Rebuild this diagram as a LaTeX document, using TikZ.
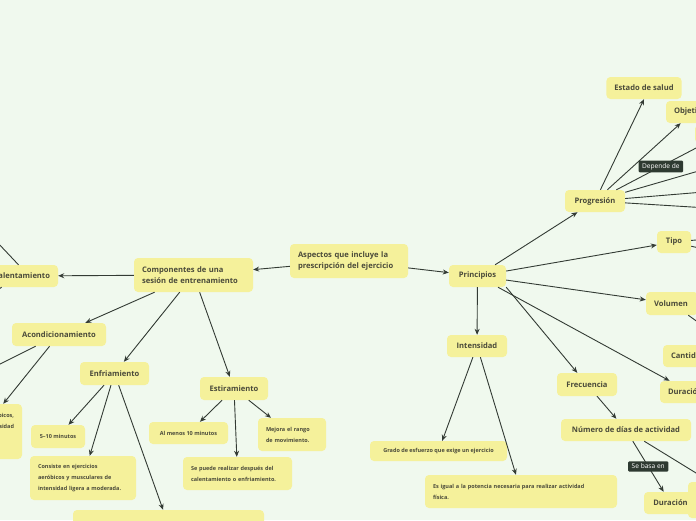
\documentclass[tikz,border=0pt]{standalone}
\usepackage{fontspec}
\setmainfont{Open Sans}
\usetikzlibrary{arrows.meta}
\definecolor{bgcol}{HTML}{F0F9EE}
\definecolor{boxcol}{HTML}{F5F19B}
\definecolor{txtcol}{HTML}{4A4A3A}
\definecolor{linecol}{HTML}{333B34}
\definecolor{lblcol}{HTML}{2E3A31}
\tikzset{
  topic/.style={fill=boxcol, rounded corners=4pt, text=txtcol, inner xsep=8pt, inner ysep=0pt,
    font=\fontsize{7.6}{11}\selectfont\bfseries},
  detail/.style={topic, font=\fontsize{5.5}{11}\selectfont\bfseries},
  arr/.style={-{Stealth[length=6pt,width=5pt]}, draw=linecol, line width=0.9pt},
  lbl/.style={fill=lblcol, text=white, rounded corners=1pt, inner xsep=3.5pt, inner ysep=2.5pt,
    font=\fontsize{6.6}{7}\selectfont},
}
\begin{document}
\begin{tikzpicture}[x=1pt, y=-1pt]
  \useasboundingbox (0,0) rectangle (696,520);
  \fill[bgcol] (0,0) rectangle (696,520);
  \clip (0,0) rectangle (696,520);
  % centre
  \node[topic, text width=102pt, align=left, minimum height=34pt] (asp) at (349,261) {Aspectos que incluye la\\prescripción del ejercicio};
  \node[topic, minimum width=57pt, minimum height=22pt] (prin) at (477.5,276) {Principios};
  \node[topic, text width=103pt, align=left, minimum height=34pt] (comp) at (193.5,275) {Componentes de una\\sesión de entrenamiento};
  % Componentes branch
  \node[topic, text width=63pt, align=right, minimum height=22pt] (cal) at (18.5,276) {Calentamiento};
  \node[topic, minimum width=94pt, minimum height=23pt] (acon) at (59,334.5) {Acondicionamiento};
  \node[detail, text width=66pt, align=right, minimum height=55pt, font=\fontsize{5.5}{10.5}\selectfont\bfseries] (acdet) at (-19,431.5) {aeróbicos,\\intensidad\\\mbox{}\\\mbox{}};
  \node[topic, minimum width=69pt, minimum height=23pt] (enf) at (114.5,373.5) {Enfriamiento};
  \node[detail, minimum width=54pt, minimum height=23pt] (min) at (58,436.5) {5–10 minutos};
  \node[detail, text width=90pt, align=left, minimum height=44pt] (cons) at (83,478) {Consiste en ejercicios\\aeróbicos y musculares de\\intensidad ligera a moderada.};
  \node[detail, minimum width=191pt, minimum height=30pt] (bot) at (168.5,525) {};
  \node[topic, minimum width=68pt, minimum height=23pt] (est) at (234,388.5) {Estiramiento};
  \node[detail, minimum width=79pt, minimum height=22pt] (diez) at (188.5,433) {Al menos 10 minutos};
  \node[detail, text width=52pt, align=left, minimum height=33pt] (mej) at (292,434.5) {Mejora el rango\\de movimiento.};
  \node[detail, text width=93pt, align=left, minimum height=33pt] (desp) at (237.5,473.5) {Se puede realizar después del\\calentamiento o enfriamiento.};
  \coordinate (calA) at (-20,224);
  \coordinate (calB) at (-71.5,336);
  \coordinate (aconA) at (-101,414.5);
  % Principios branch
  \node[topic, minimum width=60pt, minimum height=22pt] (prog) at (595,201) {Progresión};
  \node[topic, minimum width=66pt, minimum height=22pt] (salud) at (644,88) {Estado de salud};
  \node[topic, text width=38pt, align=left, minimum height=22pt] (obj) at (693,112) {Objetivos};
  \node[topic, minimum width=64pt, minimum height=18pt] (pg3) at (727,134) {};
  \node[topic, minimum width=34pt, minimum height=22pt] (tipo) at (674,242) {Tipo};
  \node[topic, text width=36pt, align=left, minimum height=23pt] (vol) at (672,303.5) {Volumen};
  \node[topic, text width=48pt, align=left, minimum height=22pt] (cant) at (695,356) {Cantidad};
  \node[topic, text width=44pt, align=left, minimum height=22pt] (durp) at (690,392) {Duración};
  \node[topic, minimum width=60pt, minimum height=22pt] (int) at (477,346) {Intensidad};
  \node[detail, minimum width=137pt, minimum height=20pt] (grado) at (438.5,451) {Grado de esfuerzo que exige un ejercicio};
  \node[detail, text width=176pt, align=left, minimum height=33pt] (pot) at (521,491.5) {Es igual a la potencia necesaria para realizar actividad\\física.};
  \node[topic, minimum width=60pt, minimum height=23pt] (frec) at (587,384.5) {Frecuencia};
  \node[topic, minimum width=130pt, minimum height=22pt] (dias) at (626,430) {Número de días de actividad};
  \node[topic, minimum width=53pt, minimum height=22pt] (durd) at (670.5,503) {Duración};
  \node[topic, minimum width=104pt, minimum height=36pt] (dias2) at (740,500) {};
  \coordinate (progA) at (740,125);
  \coordinate (progB) at (740,159);
  \coordinate (progC) at (740,189);
  \coordinate (progD) at (740,210);
  \coordinate (tipoA) at (740,236);
  \coordinate (tipoB) at (740,258);
  \coordinate (volA) at (752,361);
  % connectors
  \draw[arr] (asp) -- (comp);
  \draw[arr] (asp) -- (prin);
  \foreach \c in {cal,acon,enf,est} \draw[arr] (comp) -- (\c);
  \draw[arr] (cal.north) -- (calA);
  \draw[arr] (cal) -- (calB);
  \draw[arr] (acon) -- (aconA);
  \draw[arr] (acon) -- (acdet);
  \foreach \c in {min,cons,bot} \draw[arr] (enf) -- (\c);
  \foreach \c in {diez,mej,desp} \draw[arr] (est) -- (\c);
  \foreach \c in {prog,tipo,vol,durp,int} \draw[arr] (prin) -- (\c);
  \draw[arr] (prin.south east) -- (frec);
  \draw[arr] (int) -- (grado);
  \draw[arr] (int) -- (pot);
  \draw[arr] (frec) -- (dias);
  \draw[arr] (dias) -- node[lbl] {Se basa en} (durd);
  \draw[arr] (dias) -- (dias2);
  \draw[arr] (prog) -- (salud.south);
  \draw[arr] (prog) -- (obj);
  \draw[arr] (prog) -- node[lbl, pos=0.36] {Depende de} (progA);
  \foreach \c in {progB,progC,progD} \draw[arr] (prog) -- (\c);
  \draw[arr] (tipo) -- (tipoA);
  \draw[arr] (tipo) -- (tipoB);
  \draw[arr] (vol) -- (volA);
\end{tikzpicture}
\end{document}
